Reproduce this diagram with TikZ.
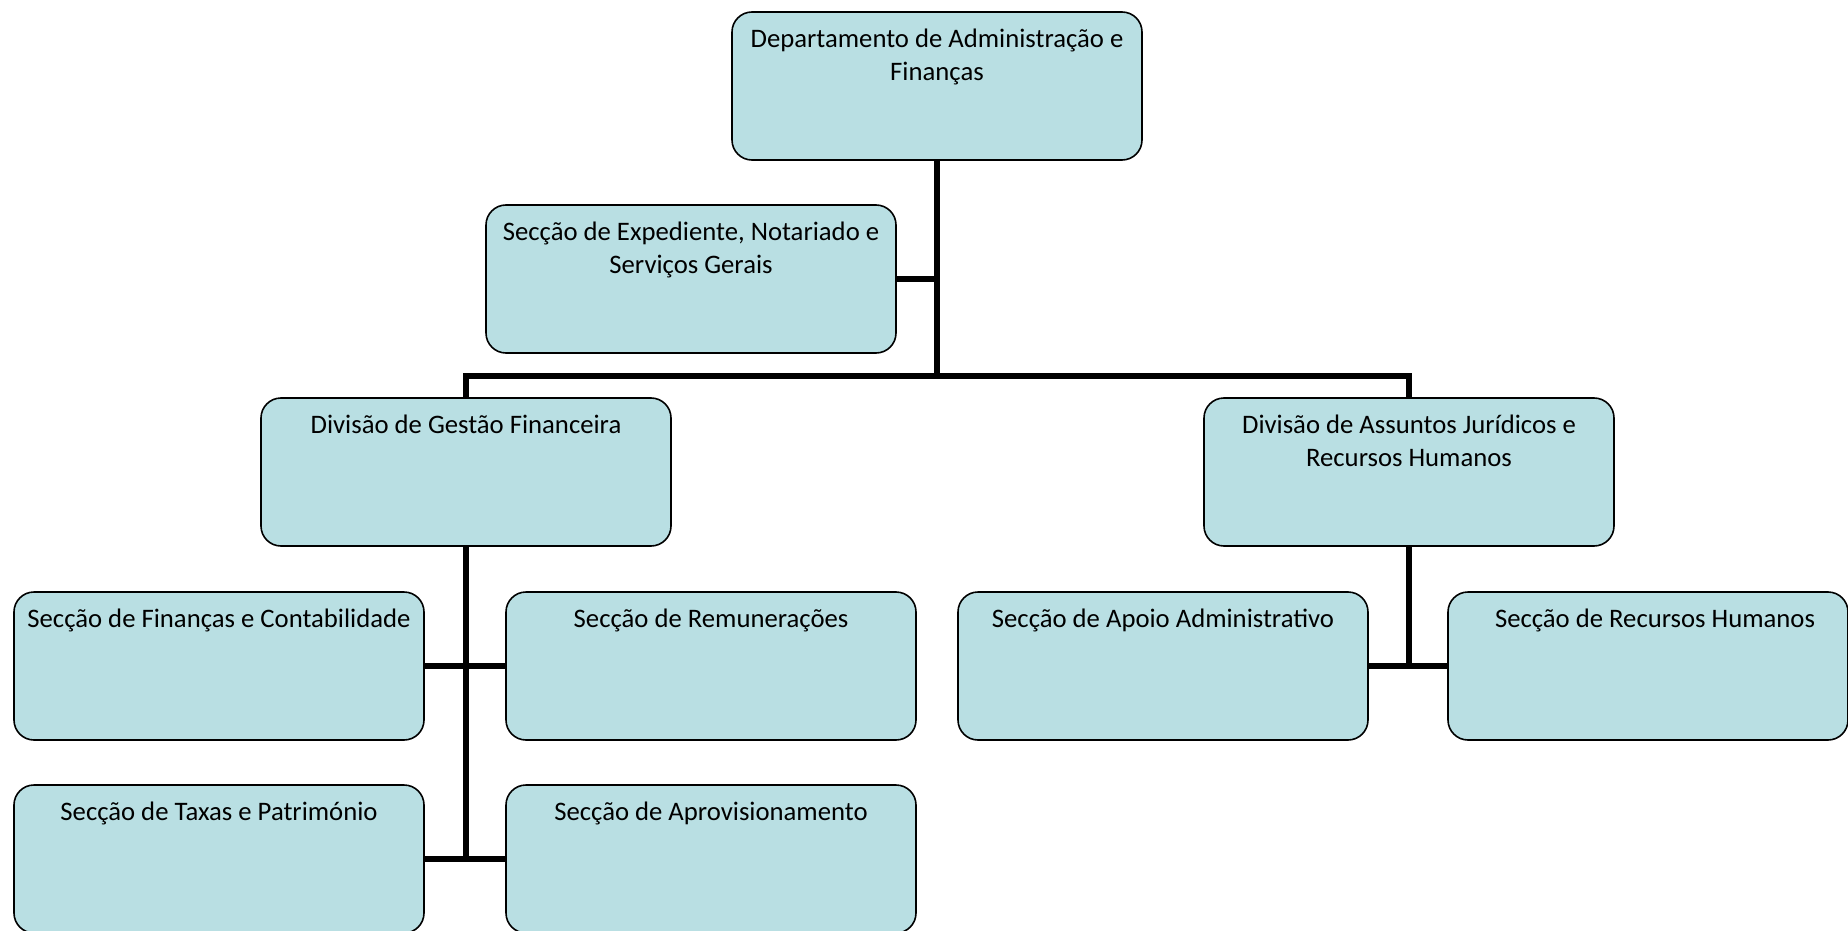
\documentclass[tikz,border=0pt]{standalone}
\usepackage{fontspec}
\setmainfont{Carlito}
\usetikzlibrary{backgrounds}
\definecolor{boxfill}{RGB}{185,223,227}
% text block anchored to the top of each unit box
\newcommand\unittext[1]{\parbox[t][123pt][t]{400pt}{\centering\strut #1\par}}
\tikzset{
  unit/.style={draw=black, line width=1.6pt, fill=boxfill, rounded corners=20pt,
    minimum width=410pt, minimum height=148pt, inner sep=0pt,
    font=\fontsize{26.7}{33}\selectfont},
  conn/.style={line width=6.3pt, line join=miter}
}
\begin{document}
\begin{tikzpicture}[x=1pt, y=-1pt]
\useasboundingbox (0,0) rectangle (1848,931);
\node[unit] (dep) at (937,86) {\unittext{Departamento de Administração e\\Finanças}};
\node[unit] (exp) at (691,279) {\unittext{Secção de Expediente, Notariado e\\Serviços Gerais}};
\node[unit] (divg) at (466,472) {\unittext{Divisão de Gestão Financeira}};
\node[unit] (diva) at (1409,472) {\unittext{Divisão de Assuntos Jurídicos e\\Recursos Humanos}};
\node[unit] (fin) at (219,666) {\unittext{Secção de Finanças e Contabilidade}};
\node[unit] (rem) at (711,666) {\unittext{Secção de Remunerações}};
\node[unit] (tax) at (219,859) {\unittext{Secção de Taxas e Património}};
\node[unit] (apr) at (711,859) {\unittext{Secção de Aprovisionamento}};
\node[unit] (apo) at (1163,666) {\unittext{Secção de Apoio Administrativo}};
\node[unit, minimum width=396pt] (rh) at (1648,666) {\unittext{\hspace*{14pt}Secção de Recursos Humanos}};
\coordinate (hub) at (937,376);
\begin{pgfonlayer}{background}
  \draw[conn] (dep.south) -- (hub);
  \draw[conn] (exp.east) -- (exp.east -| hub);
  \draw[conn] (divg.north) |- (hub) -| (diva.north);
  \draw[conn] (divg.south) -- (divg.south |- tax.east);
  \draw[conn] (fin.east) -- (rem.west);
  \draw[conn] (tax.east) -- (apr.west);
  \draw[conn] (diva.south) -- (diva.south |- apo.east);
  \draw[conn] (apo.east) -- (rh.west);
\end{pgfonlayer}
\end{tikzpicture}
\end{document}
